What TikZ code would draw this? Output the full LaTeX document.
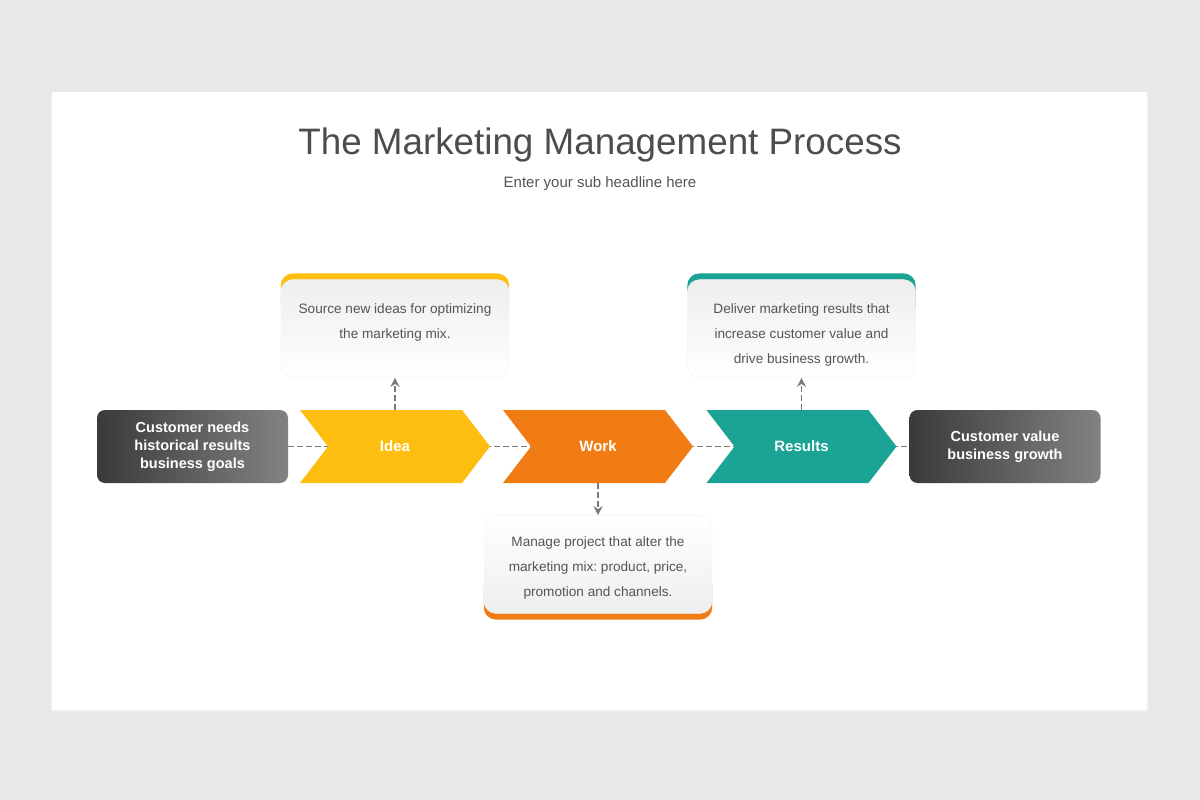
\documentclass[tikz,border=0pt]{standalone}
\usepackage{fontspec}
\setmainfont{Liberation Sans}
\usetikzlibrary{positioning,shapes.symbols,arrows.meta,backgrounds}
\usepackage{xcolor}
\definecolor{pagec}{HTML}{E9E7E8}
\definecolor{titlec}{HTML}{4D4D4D}
\definecolor{textc}{HTML}{555555}
\definecolor{linec}{HTML}{7A7A7A}
\definecolor{grayL}{HTML}{3A3A3A}
\definecolor{grayR}{HTML}{828282}
\definecolor{notec}{HTML}{EEEEEE}
\definecolor{ideac}{HTML}{FEBE10}
\definecolor{workc}{HTML}{F27C14}
\definecolor{resc}{HTML}{1BA495}
\pgfdeclarelayer{bg}
\pgfsetlayers{bg,background,main}
\frenchspacing

\begin{document}
\begin{tikzpicture}[x=1pt,y=-1pt]
		% 定义形状
		\tikzstyle{inbox} = [rectangle, rounded corners=8pt, left color=grayL, right color=grayR, minimum width=191pt, minimum height=73pt, inner sep=0pt, align=center, text=white, font=\bfseries\fontsize{14.5}{18}\selectfont]	% 输入输出框
		\tikzstyle{chev} = [signal, signal from=west, signal to=east, signal pointer angle=105, minimum width=190pt, minimum height=73pt, inner sep=0pt, text=white, font=\bfseries\fontsize{15}{18}\selectfont]	% 箭头形步骤
		\tikzstyle{note} = [rectangle, rounded corners=12pt, top color=notec, bottom color=white, draw=black!5, minimum width=228pt, minimum height=98pt, inner sep=0pt]	% 说明框
		\tikzstyle{notetext} = [align=center, text=textc, inner sep=0pt, font=\fontsize{13.6}{25}\selectfont]	% 说明文字
		\tikzstyle{link} = [line width=1.5pt, draw=linec, dash pattern=on 6pt off 3pt]	% 虚线
		\tikzstyle{arrow} = [link, -{Stealth[length=9pt,width=9pt]}]	% 虚线箭头
		\useasboundingbox (0,0) rectangle (1200,800);
		\begin{pgfonlayer}{bg}
			\fill[pagec] (0,0) rectangle (1200,800);
			\fill[black!7] (50,94) rectangle (1149,713);
			\fill[white] (52,92) rectangle (1147,710);
		\end{pgfonlayer}

		\node (title) at (600,145) [text=titlec, font=\fontsize{36.8}{40}\selectfont] {The Marketing Management Process};
		\node (sub) at (600,184) [text=textc, font=\fontsize{15}{18}\selectfont] {Enter your sub headline here};

		\node (inp) at (192.5,446.5) [inbox] {Customer needs\\historical results\\business goals};
		\node (idea) at (395,446.5) [chev, fill=ideac] {Idea};
		\node (work) at (598,446.5) [chev, fill=workc] {Work};
		\node (res) at (801.5,446.5) [chev, fill=resc] {Results};
		\node (out) at (1005,446.5) [inbox] {Customer value\\business growth};

		\node (ideanote) [note, above=32pt of idea] {};
		\node (worknote) [note, below=32pt of work, top color=white, bottom color=notec] {};
		\node (resnote) [note, above=32pt of res] {};
		\node (ideatext) at ([yshift=6.5pt]ideanote.center) [notetext] {Source new ideas for optimizing\\the marketing mix.};
		\node (worktext) at ([yshift=-4pt]worknote.center) [notetext] {Manage project that alter the\\marketing mix: product, price,\\promotion and channels.};
		\node (restext) at ([yshift=-6pt]resnote.center) [notetext] {Deliver marketing results that\\increase customer value and\\drive business growth.};

		% 连接
		\begin{scope}[on background layer]
			\fill[ideac, rounded corners=12pt] ([yshift=6pt]ideanote.north west) rectangle ([yshift=-40pt]ideanote.north east);
			\fill[resc, rounded corners=12pt] ([yshift=6pt]resnote.north west) rectangle ([yshift=-40pt]resnote.north east);
			\fill[workc, rounded corners=12pt] ([yshift=40pt]worknote.south west) rectangle ([yshift=-6pt]worknote.south east);
			\draw [link](inp.east) -- (idea.center);
			\draw [link](idea.center) -- (work.center);
			\draw [link](work.center) -- (res.center);
			\draw [link](res.center) -- (out.west);
			\draw [arrow](idea.north) -- (ideanote.south);
			\draw [arrow](work.south) -- (worknote.north);
			\draw [arrow](res.north) -- (resnote.south);
		\end{scope}
	\end{tikzpicture}
\end{document}
